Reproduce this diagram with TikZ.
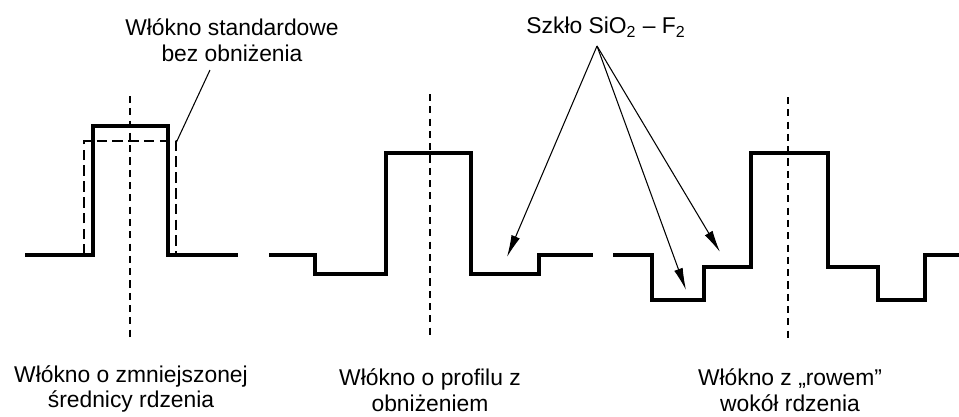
\documentclass[tikz,border=0pt]{standalone}
\usepackage{fontspec}
\setmainfont{Liberation Sans}
\usetikzlibrary{arrows.meta}

\tikzset{
  profile/.style={line width=1.9pt,line join=miter,-},
  oldprofile/.style={line width=1.2pt,dash pattern=on 6pt off 3pt,-},
  axis/.style={line width=0.6pt,dash pattern=on 4pt off 3pt,-},
  pointer/.style={line width=0.6pt,-{Latex[length=4.4mm,width=1.8mm]}},
  caption/.style={align=center,font=\fontsize{13}{14.6}\selectfont,inner sep=0pt}
}

\begin{document}
\begin{tikzpicture}[x=0.02cm,y=-0.02cm]

\useasboundingbox (0,0) rectangle (959,416);

% labels
\node[caption] (std) at (232,40) {Włókno standardowe\\bez obniżenia};
\node[caption] (fluor) at (606,27) {Szkło SiO\textsubscript{2} – F\textsubscript{2}};
\node[caption] (lab1) at (131,389) {Włókno o zmniejszonej\\średnicy rdzenia};
\node[caption] (lab2) at (430,390) {Włókno o profilu z\\obniżeniem};
\node[caption] (lab3) at (790,390) {Włókno z „rowem”\\wokół rdzenia};

% fibre axes
\path [draw,axis]
    (130,96) -- (130,338)
    (430,94) -- (430,337)
    (788,97) -- (788,340)
;

% reduced core fibre and the standard one
\draw [profile] (25,255) -- (93,255) -- (93,126) -- (168,126) -- (168,255) -- (238,255);
\draw [oldprofile] (84,255) -- (84,141) -- (176,141) -- (176,255);

% depressed cladding
\draw [profile] (269,255) -- (315,255) -- (315,274) -- (386,274) -- (386,153)
    -- (471,153) -- (471,274) -- (539,274) -- (539,255) -- (593,255);

% trench around the core
\draw [profile] (613,255) -- (652,255) -- (652,300) -- (704,300) -- (704,267)
    -- (751,267) -- (751,153) -- (828,153) -- (828,267) -- (878,267)
    -- (878,300) -- (925,300) -- (925,255) -- (959,255);

% pointers
\coordinate (stdfoot) at (210,70);
\coordinate (stdtip) at (176,143);
\coordinate (apex) at (597,46);
\coordinate (tipA) at (507,257);
\coordinate (tipB) at (686,290);
\coordinate (tipC) at (720,252);

\draw [line width=0.6pt] (stdfoot) -- (stdtip);
\draw [pointer] (apex) -- (tipA);
\draw [pointer] (apex) -- (tipB);
\draw [pointer] (apex) -- (tipC);

\end{tikzpicture}
\end{document}
